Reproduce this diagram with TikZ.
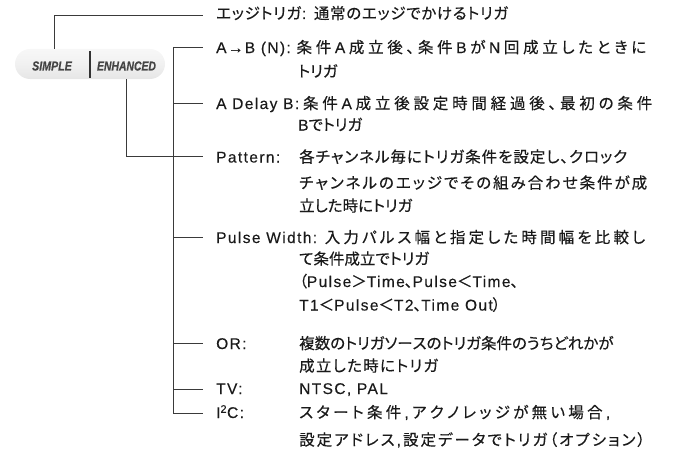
\documentclass[tikz,border=0pt]{standalone}
\usepackage{fontspec}
\usepackage{graphicx}
\setmainfont{Liberation Sans}[LetterSpace=9,FakeBold=0.3]
\newfontfamily\cjkf{Noto Sans CJK JP}[FakeBold=0.35,RawFeature=+palt,LetterSpace=12]
\newfontfamily\pillfont{Liberation Sans}[BoldItalicFont={Liberation Sans Bold Italic},BoldItalicFeatures={FakeBold=0.6}]
% CJK character class: switch font and add stretchable glue between characters
\newXeTeXintercharclass\cjkcls
\makeatletter
\def\setcjkrange#1#2{\count@=#1\relax
  \loop\XeTeXcharclass\count@=\cjkcls\relax\advance\count@ by 1\relax
  \ifnum\count@<#2\repeat}
\setcjkrange{"3000}{"3100}
\setcjkrange{"4E00}{"A000}
\setcjkrange{"FF00}{"FFF0}
\makeatother
\def\jglue{\hskip 0pt plus 1fil\relax}
\XeTeXinterchartoks 0 \cjkcls = {\jglue\cjkf}
\XeTeXinterchartoks 4095 \cjkcls = {\cjkf}
\XeTeXinterchartoks \cjkcls 0 = {\jglue\normalfont}
\XeTeXinterchartoks \cjkcls 4095 = {\normalfont}
\XeTeXinterchartoks \cjkcls \cjkcls = {\jglue}
\XeTeXinterchartokenstate=1
\newcommand\jl[2]{\makebox[#1pt][s]{#2}}
\definecolor{txtc}{HTML}{1A1A1A}
\definecolor{linec}{HTML}{3A3A3A}
\definecolor{pillt}{HTML}{444444}
\begin{document}
\begin{tikzpicture}[x=1pt,y=-1pt,
  txt/.style={anchor=base west,inner sep=0pt,font=\fontsize{15.5}{18}\selectfont,text=txtc},
  conn/.style={draw=linec,line width=0.8pt},
  pilltxt/.style={inner sep=0pt,text=pillt,font=\pillfont\bfseries\itshape\fontsize{13}{13}\selectfont},
  pillbox/.style={rounded corners=15pt,minimum width=150pt,minimum height=30pt,inner sep=0pt,
    top color=gray!6,bottom color=gray!20,middle color=gray!11,draw=none}]
\useasboundingbox (0,0) rectangle (677,452);
% pill
\node[pillbox] (pill) at (90,64) {};
\node[fill=black!80,minimum width=2.8pt,minimum height=27pt,inner sep=0pt] (div) at (90,64.5) {};
\node[pilltxt] (simple) at (52,66) {\scalebox{0.82}[1]{SIMPLE}};
\node[pilltxt] (enh) at (126.5,66) {\scalebox{0.8}[1]{ENHANCED}};
% branch coordinates
\coordinate (bEdge) at (203,15);
\foreach \n/\y in {AB/47,DL/103,PT/156,PW/237,OR/343,TV/389,IC/413}{
  \coordinate (j\n) at (173,\y);
  \coordinate (b\n) at (203,\y);
}
% connectors
\draw[conn] ([xshift=2pt]simple |- pill.north) |- (bEdge);
\draw[conn] (enh |- pill.south) |- (bPT);
\draw[conn] (jAB) -- (jIC);
\foreach \n in {AB,DL,PT,PW,OR,TV,IC}{\draw[conn] (j\n) -- (b\n);}
% texts
\node[txt] (t1) at (216,19) {\jl{292}{エッジトリガ: 通常のエッジでかけるトリガ}};
\node[txt] (t2) at (216,53) {\jl{430}{A→B (N): 条件A成立後、条件BがN回成立したときに}};
\node[txt] (t2b) at (298,77) {トリガ};
\node[txt] (t3) at (216,109) {\jl{436}{A Delay B:条件A成立後設定時間経過後、最初の条件}};
\node[txt] (t3b) at (298,130.5) {Bでトリガ};
\node[txt] (t4) at (216,162.5) {Pattern:};
\node[txt] (t4a) at (299,162.5) {\jl{328}{各チャンネル毎にトリガ条件を設定し、クロック}};
\node[txt] (t4b) at (299,188.5) {\jl{348}{チャンネルのエッジでその組み合わせ条件が成}};
\node[txt] (t4c) at (299,211.5) {立した時にトリガ};
\node[txt] (t5) at (216,243) {\jl{429}{Pulse Width: 入力パルス幅と指定した時間幅を比較し}};
\node[txt] (t5b) at (299,264.5) {て条件成立でトリガ};
\node[txt] (t5c) at (299,287) {（Pulse＞Time、Pulse＜Time、};
\node[txt] (t5d) at (299,310.5) {T1＜Pulse＜T2、Time Out）};
\node[txt] (t6) at (216,349) {OR:};
\node[txt] (t6a) at (299,349) {複数のトリガソースのトリガ条件のうちどれかが};
\node[txt] (t6b) at (299,371.5) {\jl{139}{成立した時にトリガ}};
\node[txt] (t7) at (216,394) {TV:};
\node[txt] (t7a) at (299,394) {NTSC, PAL};
\node[txt] (t8) at (216,418) {I\textsuperscript{2}C:};
\node[txt] (t8a) at (299,418) {\jl{311}{スタート条件,アクノレッジが無い場合,}};
\node[txt] (t8b) at (299,445.5) {\jl{346}{設定アドレス,設定データでトリガ（オプション）}};
\end{tikzpicture}
\end{document}
